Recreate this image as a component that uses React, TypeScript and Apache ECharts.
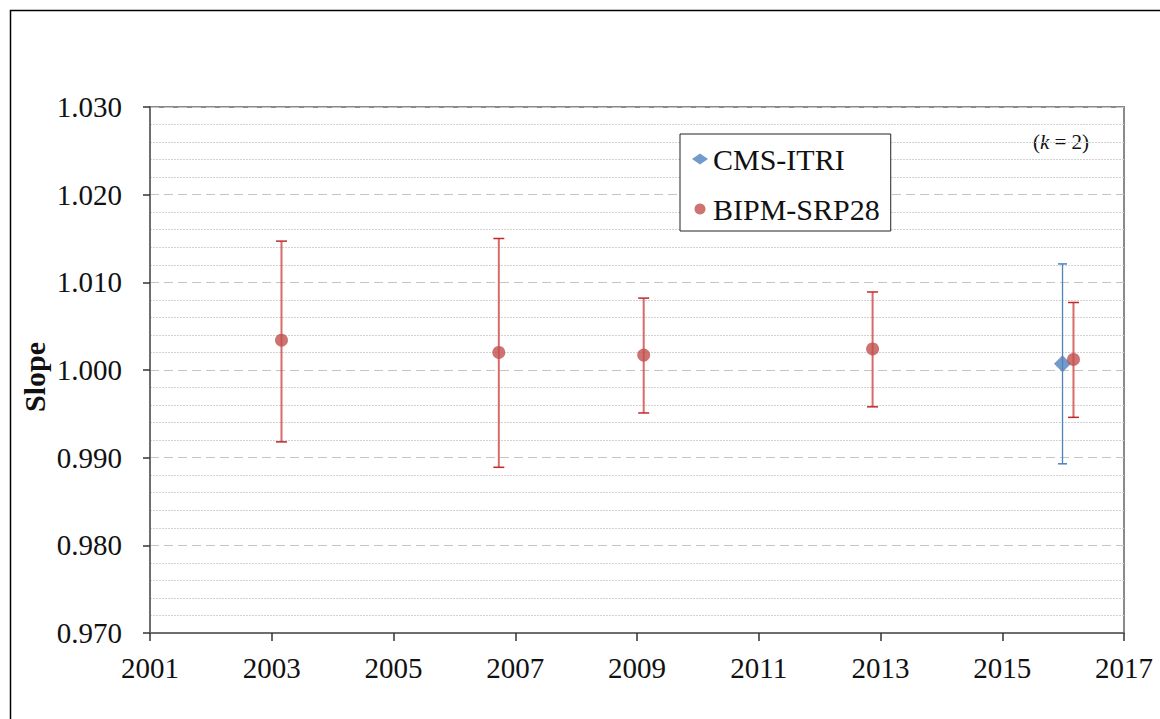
import React, { useEffect, useRef } from "react";
import * as echarts from "echarts";

const xTicksMin = 2001;
const xTicksMax = 2017;
const yMin = 0.97;
const yMax = 1.03;

const bipmX = [2003.16, 2006.73, 2009.11, 2012.87, 2016.17];
const bipmY = [1.0034, 1.002, 1.0017, 1.0024, 1.0012];
const bipmHigh = [1.0147, 1.015, 1.0082, 1.0089, 1.0077];
const bipmLow = [0.9918, 0.9889, 0.9951, 0.9958, 0.9946];

const cmsX = [2015.99];
const cmsY = [1.0007];
const cmsHigh = [1.0121];
const cmsLow = [0.9893];

const SERIF = "Liberation Serif";

function errorBarSeries(xs: number[], lows: number[], highs: number[], lineColor: string, capColor: string, lineWidth: number, capHalf: number) {
  return {
    type: "custom",
    z: 2,
    data: xs.map((x, i) => [x, lows[i], highs[i]]),
    encode: { x: 0, y: [1, 2] },
    renderItem: (_params: any, api: any) => {
      const x = api.value(0);
      const pLo = api.coord([x, api.value(1)]);
      const pHi = api.coord([x, api.value(2)]);
      return {
        type: "group",
        children: [
          { type: "line", shape: { x1: pHi[0], y1: pHi[1], x2: pLo[0], y2: pLo[1] }, style: { stroke: lineColor, lineWidth } },
          { type: "line", shape: { x1: pHi[0] - capHalf, y1: pHi[1], x2: pHi[0] + capHalf, y2: pHi[1] }, style: { stroke: capColor, lineWidth: 1.5 } },
          { type: "line", shape: { x1: pLo[0] - capHalf, y1: pLo[1], x2: pLo[0] + capHalf, y2: pLo[1] }, style: { stroke: capColor, lineWidth: 1.5 } },
        ],
      };
    },
  };
}

export default function App() {
  const ref = useRef<HTMLDivElement>(null);
  useEffect(() => {
    if (!ref.current) return;
    const chart = echarts.init(ref.current, undefined, { renderer: "svg" });
    chart.setOption({
      animation: false,
      backgroundColor: "#ffffff",
      grid: {
        left: 150,
        top: 107,
        width: 974,
        height: 526,
        show: true,
        borderColor: "#8a8a8a",
        borderWidth: 2,
        backgroundColor: "transparent",
      },
      xAxis: {
        type: "value",
        min: xTicksMin,
        max: xTicksMax,
        interval: 2,
        axisLine: { show: true, lineStyle: { color: "#6e6e6e", width: 2 } },
        axisTick: { show: true, length: 8, lineStyle: { color: "#333", width: 1.5 } },
        axisLabel: {
          formatter: (v: number) => String(v),
          fontFamily: SERIF,
          fontSize: 29,
          color: "#111",
          margin: 20,
        },
        splitLine: { show: false },
      },
      yAxis: {
        type: "value",
        min: yMin,
        max: yMax,
        interval: 0.01,
        axisLine: { show: true, lineStyle: { color: "#6e6e6e", width: 2 } },
        axisTick: { show: true, length: 7, lineStyle: { color: "#333", width: 1.5 } },
        axisLabel: {
          formatter: (v: number) => v.toFixed(3),
          fontFamily: SERIF,
          fontSize: 29,
          color: "#111",
          margin: 28,
        },
        splitLine: { show: true, lineStyle: { color: "#c4c4c4", type: [9, 5], width: 1 } },
        minorTick: { show: false, splitNumber: 5 },
        minorSplitLine: { show: true, lineStyle: { color: "#d2d2d2", type: [2, 1], width: 1 } },
      },
      legend: {
        show: true,
        left: 680,
        top: 134,
        orient: "vertical",
        backgroundColor: "#ffffff",
        borderColor: "#222",
        borderWidth: 1,
        padding: [10, 11, 7, 12],
        itemGap: 20,
        itemWidth: 16,
        itemHeight: 11,
        textStyle: { fontFamily: SERIF, fontSize: 30, color: "#111", lineHeight: 28 },
        data: [
          { name: "CMS-ITRI", icon: "diamond" },
          { name: "BIPM-SRP28", icon: "circle" },
        ],
      },
      graphic: [
        {
          type: "rect",
          shape: { x: 10.5, y: 10.5, width: 1200, height: 800 },
          style: { fill: "none", stroke: "#000", lineWidth: 1.5 },
          silent: true,
        },
        {
          type: "text",
          x: 1061,
          y: 142,
          style: {
            text: "({k|k} = 2)",
            fontFamily: SERIF,
            fontSize: 21,
            fill: "#111",
            align: "center",
            verticalAlign: "middle",
            rich: { k: { fontFamily: SERIF, fontSize: 21, fontStyle: "italic", fill: "#111" } },
          },
        },
        {
          type: "text",
          x: 34,
          y: 377,
          rotation: Math.PI / 2,
          style: {
            text: "Slope",
            fontFamily: SERIF,
            fontSize: 30,
            fontWeight: "bold",
            fill: "#111",
            align: "center",
            verticalAlign: "middle",
          },
        },
      ],
      series: [
        errorBarSeries(bipmX, bipmLow, bipmHigh, "rgba(210,80,80,0.85)", "#c0282a", 2, 5.5),
        errorBarSeries(cmsX, cmsLow, cmsHigh, "#4f81bd", "#4f81bd", 1.3, 4.5),
        {
          name: "CMS-ITRI",
          type: "scatter",
          z: 3,
          symbol: "diamond",
          symbolSize: 17,
          itemStyle: { color: "#4f81bd" },
          data: cmsX.map((x, i) => [x, cmsY[i]]),
        },
        {
          name: "BIPM-SRP28",
          type: "scatter",
          z: 4,
          symbol: "circle",
          symbolSize: 13,
          itemStyle: { color: "#c0504d" },
          data: bipmX.map((x, i) => [x, bipmY[i]]),
        },
      ],
    });
    return () => chart.dispose();
  }, []);
  return <div ref={ref} style={{ position: "absolute", left: 0, top: 0, width: 1160, height: 719 }} />;
}
